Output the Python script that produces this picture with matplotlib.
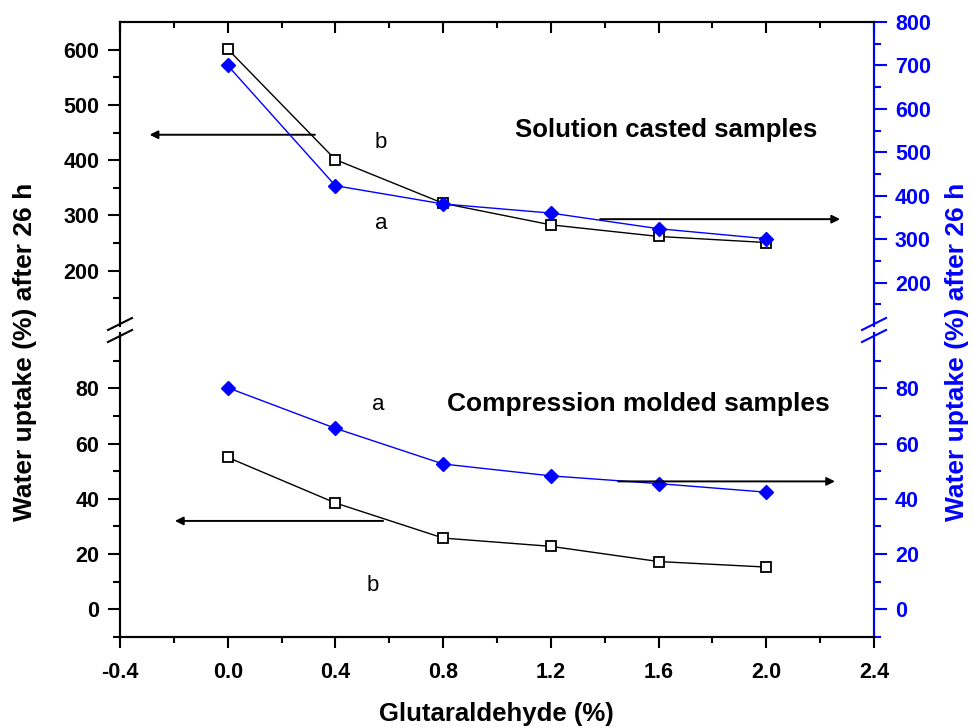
import matplotlib.pyplot as plt
import numpy as np

plt.rcParams['font.family'] = ['Liberation Sans', 'DejaVu Sans']

# data
glut = [0.0, 0.4, 0.8, 1.2, 1.6, 2.0]

# solution casted samples (top part)
sol_b = [601, 401, 322, 283, 262, 251]      # left axis, open squares
sol_a = [700, 423, 381, 360, 324, 301]      # right axis, blue diamonds

# compression molded samples (bottom part)
comp_b = [55.0, 38.5, 25.8, 22.8, 17.3, 15.3]   # left axis
comp_a = [80.2, 65.5, 52.6, 48.3, 45.5, 42.4]   # right axis

xticks = [-0.4, 0.0, 0.4, 0.8, 1.2, 1.6, 2.0, 2.4]
top_left_ticks = [200, 300, 400, 500, 600]
top_right_ticks = [200, 300, 400, 500, 600, 700, 800]
bot_ticks = [0, 20, 40, 60, 80]

blue = '#0000ff'
tick_fs = 15.5

fig = plt.figure(figsize=(9.73, 7.28), dpi=100)
ax_top = fig.add_axes([0.1233, 0.5522, 0.775, 0.4176])
ax_bot = fig.add_axes([0.1233, 0.125, 0.775, 0.4176])
ax_top_r = ax_top.twinx()
ax_bot_r = ax_bot.twinx()

# lines
ax_top.plot(glut, sol_b, color='black', lw=1.0, marker='s', markersize=7,
            markerfacecolor='white', markeredgecolor='black', markeredgewidth=1.3, zorder=3)
ax_top_r.plot(glut, sol_a, color=blue, lw=1.0, marker='D', markersize=7,
              markerfacecolor=blue, markeredgecolor=blue, zorder=3)
ax_bot.plot(glut, comp_b, color='black', lw=1.0, marker='s', markersize=7,
            markerfacecolor='white', markeredgecolor='black', markeredgewidth=1.3, zorder=3)
ax_bot_r.plot(glut, comp_a, color=blue, lw=1.0, marker='D', markersize=7,
              markerfacecolor=blue, markeredgecolor=blue, zorder=3)

# limits
for ax in [ax_top, ax_top_r, ax_bot, ax_bot_r]:
    ax.set_xlim(-0.4, 2.4)
ax_top.set_ylim(100, 650)
ax_top_r.set_ylim(100, 800)
ax_bot.set_ylim(-10, 100)
ax_bot_r.set_ylim(-10, 100)

# spines
for ax in [ax_top, ax_top_r]:
    ax.spines['bottom'].set_visible(False)
for ax in [ax_bot, ax_bot_r]:
    ax.spines['top'].set_visible(False)
for ax in [ax_top, ax_top_r, ax_bot, ax_bot_r]:
    for s in ax.spines.values():
        s.set_linewidth(1.5)
for ax in [ax_top_r, ax_bot_r]:
    ax.spines['right'].set_color(blue)

# x ticks
ax_bot.set_xticks(xticks)
ax_bot.set_xticks(np.arange(-0.2, 2.4, 0.4), minor=True)
ax_bot.set_xticklabels([f'{v:.1f}' for v in xticks], fontsize=tick_fs, fontweight='bold')
ax_bot.tick_params(axis='x', which='major', direction='out', length=8, width=1.5, pad=10)
ax_bot.tick_params(axis='x', which='minor', direction='out', length=4, width=1.5)
ax_top.set_xticks(xticks)
ax_top.set_xticks(np.arange(-0.2, 2.4, 0.4), minor=True)
ax_top.tick_params(axis='x', which='both', bottom=False, labelbottom=False,
                   top=True, direction='in', width=1.5)
ax_top.tick_params(axis='x', which='major', length=8)
ax_top.tick_params(axis='x', which='minor', length=4)
for ax in [ax_top_r, ax_bot_r]:
    ax.tick_params(axis='x', which='both', bottom=False, top=False)

# y ticks
ax_top.set_yticks(top_left_ticks)
ax_top.set_yticks(np.arange(150, 650, 100), minor=True)
ax_top_r.set_yticks(top_right_ticks)
ax_top_r.set_yticks(np.arange(150, 800, 100), minor=True)
ax_bot.set_yticks(bot_ticks)
ax_bot.set_yticks(np.arange(-10, 100, 20), minor=True)
ax_bot_r.set_yticks(bot_ticks)
ax_bot_r.set_yticks(np.arange(-10, 100, 20), minor=True)

for ax in [ax_top, ax_bot]:
    ax.tick_params(axis='y', which='major', direction='out', length=9, width=1.5, pad=6)
    ax.tick_params(axis='y', which='minor', direction='out', length=5, width=1.5)
    for lab in ax.get_yticklabels():
        lab.set_fontsize(tick_fs)
        lab.set_fontweight('bold')
for ax in [ax_top_r, ax_bot_r]:
    ax.tick_params(axis='y', which='major', direction='out', length=9, width=1.5, pad=6,
                   color=blue, labelcolor=blue)
    ax.tick_params(axis='y', which='minor', direction='out', length=5, width=1.5, color=blue)
    for lab in ax.get_yticklabels():
        lab.set_fontsize(tick_fs)
        lab.set_fontweight('bold')

# arrows pointing to the axis each curve belongs to
arrow = dict(arrowstyle='-|>', color='black', lw=1.4, mutation_scale=12, shrinkA=0, shrinkB=0)
ax_top.annotate('', xy=(-0.29, 446), xytext=(0.324, 446), arrowprops=arrow)
ax_top_r.annotate('', xy=(2.274, 346), xytext=(1.383, 346), arrowprops=arrow)
ax_bot.annotate('', xy=(-0.196, 32), xytext=(0.577, 32), arrowprops=arrow)
ax_bot_r.annotate('', xy=(2.255, 46.3), xytext=(1.45, 46.3), arrowprops=arrow)

# text
ax_top.text(1.067, 455, 'Solution casted samples', fontsize=18.5, fontweight='bold',
            ha='left', va='center')
ax_top.text(0.569, 432, 'b', fontsize=16, ha='center', va='center')
ax_top.text(0.569, 285, 'a', fontsize=16, ha='center', va='center')
ax_bot.text(0.814, 74.2, 'Compression molded samples', fontsize=19, fontweight='bold',
            ha='left', va='center')
ax_bot.text(0.558, 74.2, 'a', fontsize=16, ha='center', va='center')
ax_bot.text(0.54, 8.7, 'b', fontsize=16, ha='center', va='center')

# axis labels
fig.text(0.5106, 0.019, 'Glutaraldehyde (%)', fontsize=18.5, fontweight='bold',
         ha='center', va='center')
fig.text(0.026, 0.516, 'Water uptake (%) after 26 h', fontsize=19, fontweight='bold',
         rotation=90, ha='center', va='center')
fig.text(0.984, 0.516, 'Water uptake (%) after 26 h', fontsize=19, fontweight='bold',
         rotation=90, ha='center', va='center', color=blue)

# break marks on both vertical axes
W, H = 973.0, 728.0
for x0, col in [(120, 'black'), (874, blue)]:
    for yc in [324, 336]:
        fig.add_artist(plt.Line2D([(x0 - 12) / W, (x0 + 12) / W],
                                  [1 - (yc + 6) / H, 1 - (yc - 6) / H],
                                  color=col, lw=1.5, transform=fig.transFigure))

plt.savefig('out.png', dpi=100)
